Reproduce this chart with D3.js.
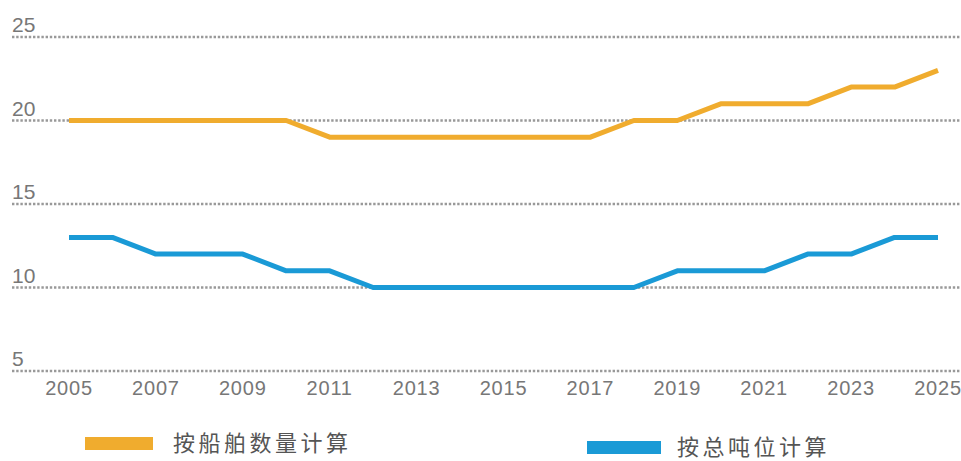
<!DOCTYPE html>
<html>
<head>
<meta charset="utf-8">
<script src="https://cdn.jsdelivr.net/npm/d3@7"></script>
<style>
  body { margin: 0; background: #fff; }
  .grid line { stroke: #999; stroke-width: 2.6; stroke-dasharray: 2.4,1.8; }
  .ylab, .xlab { font-family: "Liberation Sans", Arial, sans-serif; fill: #777; }
  .legend text { font-family: "Noto Sans CJK SC", sans-serif; fill: #555; }
</style>
</head>
<body>
<svg id="chart" width="961" height="461"></svg>
<script>
var years = [2005, 2006, 2007, 2008, 2009, 2010, 2011, 2012, 2013, 2014, 2015,
             2016, 2017, 2018, 2019, 2020, 2021, 2022, 2023, 2024, 2025];
var byShips   = [20, 20, 20, 20, 20, 20, 19, 19, 19, 19, 19, 19, 19, 20, 20, 21, 21, 21, 22, 22, 23];
var byTonnage = [13, 13, 12, 12, 12, 11, 11, 10, 10, 10, 10, 10, 10, 10, 11, 11, 11, 12, 12, 13, 13];
var yTicks = [5, 10, 15, 20, 25];
var xTicks = [2005, 2007, 2009, 2011, 2013, 2015, 2017, 2019, 2021, 2023, 2025];
var seriesNames = ["按船舶数量计算", "按总吨位计算"];
var colors = ["#f0ac2e", "#1a9ad6"];

var chart = d3.select("#chart");

var x = d3.scaleLinear()
    .domain([2005, 2025])
    .range([69, 938]);

var y = d3.scaleLinear()
    .domain([5, 25])
    .range([371, 37]);

// dotted gridlines
chart.append("g")
    .attr("class", "grid")
  .selectAll("line")
    .data(yTicks)
  .enter().append("line")
    .attr("x1", 12)
    .attr("x2", 961)
    .attr("y1", function(d) { return y(d); })
    .attr("y2", function(d) { return y(d); });

chart.selectAll(".ylab")
    .data(yTicks)
  .enter().append("text")
    .attr("class", "ylab")
    .attr("x", 12)
    .attr("y", function(d) { return y(d) - 5; })
    .attr("font-size", 21)
    .text(function(d) { return d; });

chart.selectAll(".xlab")
    .data(xTicks)
  .enter().append("text")
    .attr("class", "xlab")
    .attr("x", function(d) { return x(d); })
    .attr("y", 395)
    .attr("text-anchor", "middle")
    .attr("font-size", 20)
    .attr("letter-spacing", 0.8)
    .text(function(d) { return d; });

var line = d3.line()
    .x(function(d, i) { return x(years[i]); })
    .y(function(d) { return y(d); });

[byShips, byTonnage].forEach(function(s, i) {
    chart.append("path")
        .datum(s)
        .attr("d", line)
        .attr("fill", "none")
        .attr("stroke", colors[i])
        .attr("stroke-width", 5)
        .attr("stroke-linejoin", "round");
});

// legend (second entry sits lower, as in the original)
var legendPos = [{x: 85, y: 437, tx: 173}, {x: 587, y: 441, tx: 677}];
var legend = chart.selectAll(".legend")
    .data(seriesNames)
  .enter().append("g")
    .attr("class", "legend");

legend.append("rect")
    .attr("x", function(d, i) { return legendPos[i].x; })
    .attr("y", function(d, i) { return legendPos[i].y; })
    .attr("width", function(d, i) { return i ? 74 : 68; })
    .attr("height", 13)
    .attr("fill", function(d, i) { return colors[i]; });

legend.append("text")
    .attr("x", function(d, i) { return legendPos[i].tx; })
    .attr("y", function(d, i) { return legendPos[i].y + 14; })
    .attr("font-size", 22)
    .attr("letter-spacing", 3.5)
    .text(function(d) { return d; });
</script>
</body>
</html>
